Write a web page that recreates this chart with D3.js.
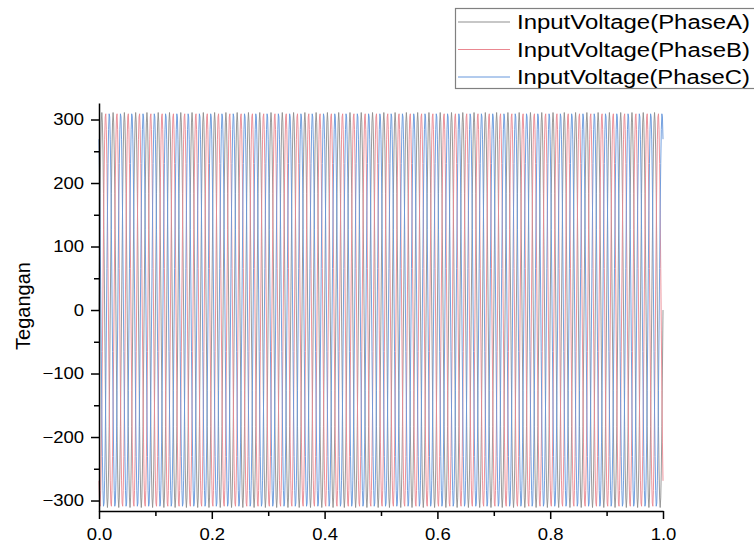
<!DOCTYPE html>
<html>
<head>
<meta charset="utf-8">
<script src="https://cdn.jsdelivr.net/npm/d3@7"></script>
<style>
  body { margin: 0; background: #fff; }
  text { font-family: "Liberation Sans", Arial, sans-serif; fill: #000; }
</style>
</head>
<body>
<script>
// One cycle of each phase (volts), 20 samples per cycle
var phaseA = [0, 96, 183, 252, 296, 311, 296, 252, 183, 96, 0, -96, -183, -252, -296, -311, -296, -252, -183, -96];
var phaseB = [-269, -304, -309, -284, -231, -156, -65, 33, 127, 208, 269, 304, 309, 284, 231, 156, 65, -33, -127, -208];
var phaseC = [269, 208, 127, 33, -65, -156, -231, -284, -309, -304, -269, -208, -127, -33, 65, 156, 231, 284, 309, 304];
var cycleCount = 50;        // 50 Hz over one second
var samplePeriod = 0.001;   // seconds between samples

var seriesNames = ["InputVoltage(PhaseA)", "InputVoltage(PhaseB)", "InputVoltage(PhaseC)"];
var seriesColors = ["#8f8f8f", "#ea8790", "#6697dc"];

var xTicks = [0, 0.2, 0.4, 0.6, 0.8, 1.0];
var xMinorTicks = [0.1, 0.3, 0.5, 0.7, 0.9];
var yTicks = [-300, -200, -100, 0, 100, 200, 300];
var yMinorTicks = [-250, -150, -50, 50, 150, 250];
var yLabel = "Tegangan";

// SVG area
var svgWidth = 754;
var svgHeight = 546;

// plot box in page pixels
var plot = { left: 99, right: 663, top: 103, bottom: 511 };

var svg = d3.select("body")
  .append("svg")
  .attr("width", svgWidth)
  .attr("height", svgHeight);

var xScale = d3.scaleLinear()
  .domain([0, 1])
  .range([plot.left, plot.right]);

var yScale = d3.scaleLinear()
  .domain([-316.5, 326])
  .range([plot.bottom, plot.top]);

// build the sampled series from the single cycles above
var cycles = [phaseA, phaseB, phaseC];
var series = cycles.map(function(cycle, i) {
  var pts = [];
  for (var c = 0; c < cycleCount; c++) {
    cycle.forEach(function(v, k) {
      pts.push({ t: (c * cycle.length + k) * samplePeriod, v: v });
    });
  }
  pts.push({ t: cycleCount * cycle.length * samplePeriod, v: cycle[0] });
  return { name: seriesNames[i], color: seriesColors[i], values: pts };
});

var line = d3.line()
  .x(d => xScale(d.t))
  .y(d => yScale(d.v));

svg.append("g")
  .selectAll("path")
  .data(series)
  .enter()
  .append("path")
  .attr("d", d => line(d.values))
  .attr("fill", "none")
  .attr("stroke", d => d.color)
  .attr("stroke-width", 1)
  .attr("stroke-opacity", 0.9);

// axes - minor ticks first, then major with the domain line
var xMinor = svg.append("g")
  .attr("transform", `translate(0, ${plot.bottom})`)
  .call(d3.axisBottom(xScale).tickValues(xMinorTicks).tickSize(5).tickFormat(""));
xMinor.select(".domain").remove();

var xAxis = svg.append("g")
  .attr("transform", `translate(0, ${plot.bottom})`)
  .call(d3.axisBottom(xScale).tickValues(xTicks).tickSize(8).tickSizeOuter(0).tickPadding(9)
    .tickFormat(d3.format(".1f")));

var yMinor = svg.append("g")
  .attr("transform", `translate(${plot.left}, 0)`)
  .call(d3.axisLeft(yScale).tickValues(yMinorTicks).tickSize(5).tickFormat(""));
yMinor.select(".domain").remove();

var yAxis = svg.append("g")
  .attr("transform", `translate(${plot.left}, 0)`)
  .call(d3.axisLeft(yScale).tickValues(yTicks).tickSize(8).tickSizeOuter(0).tickPadding(7)
    .tickFormat(d => d < 0 ? "\u2212" + Math.abs(d) : d));

svg.selectAll(".domain, .tick line")
  .attr("stroke", "#000")
  .attr("stroke-width", 1.5);

// the labels in the picture are a bit wider than plain Arial
svg.selectAll(".tick text")
  .attr("font-family", null)
  .style("font-size", "16.5px")
  .each(function() {
    var w = this.getComputedTextLength();
    d3.select(this).attr("textLength", w * 1.12).attr("lengthAdjust", "spacingAndGlyphs");
  });

// y axis title
svg.append("text")
  .attr("transform", "translate(30, 306) rotate(-90)")
  .attr("text-anchor", "middle")
  .style("font-size", "20px")
  .text(yLabel);

// legend
var legend = svg.append("g");
legend.append("rect")
  .attr("x", 455.5)
  .attr("y", 8.5)
  .attr("width", 320)
  .attr("height", 80)
  .attr("fill", "#fff")
  .attr("stroke", "#808080")
  .attr("stroke-width", 1.2);

var rows = legend.selectAll(".row")
  .data(series)
  .enter()
  .append("g")
  .attr("transform", (d, i) => `translate(0, ${22 + i * 27.5})`);

rows.append("line")
  .attr("x1", 458).attr("x2", 510)
  .attr("y1", 0).attr("y2", 0)
  .attr("stroke", d => d.color)
  .attr("stroke-width", 1);

rows.append("text")
  .attr("x", 517)
  .attr("dy", "0.35em")
  .attr("textLength", 233)
  .attr("lengthAdjust", "spacingAndGlyphs")
  .style("font-size", "20px")
  .text(d => d.name);
</script>
</body>
</html>
